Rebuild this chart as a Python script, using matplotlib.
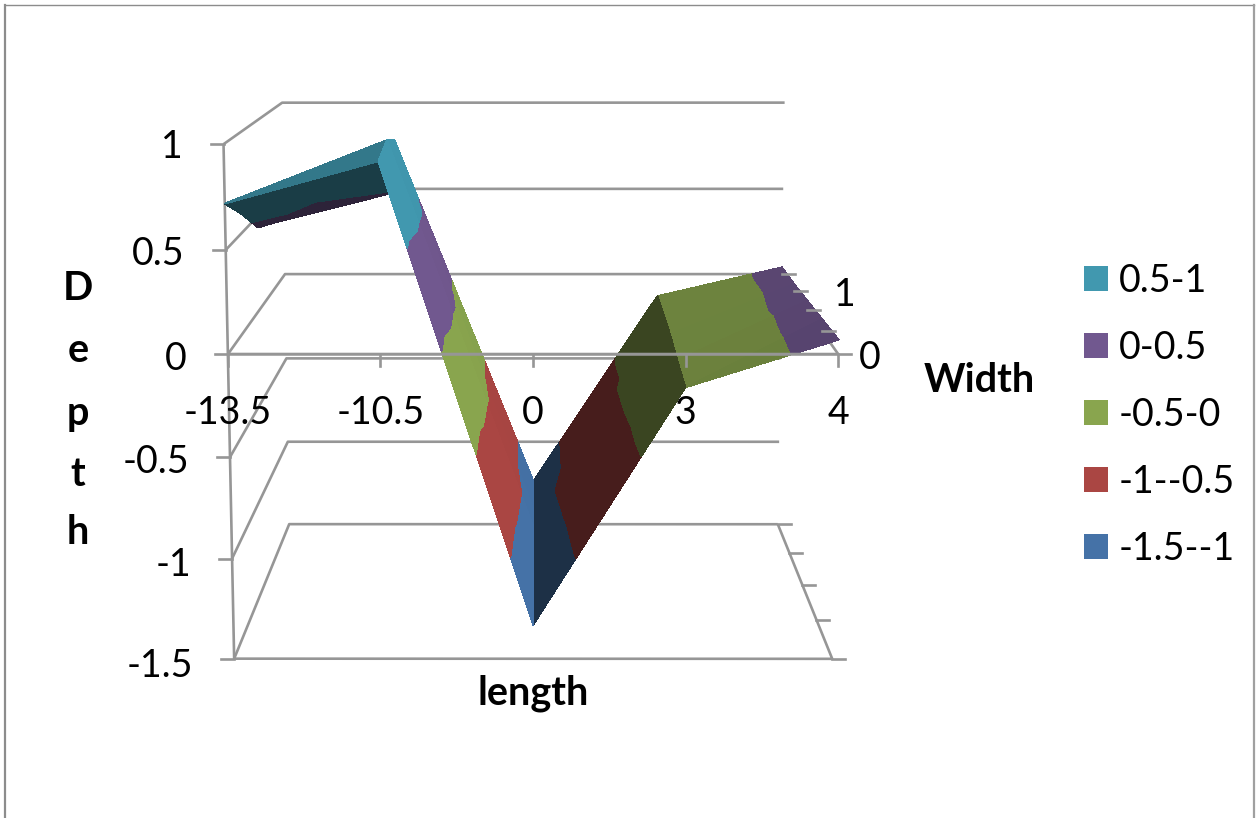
import numpy as np
import matplotlib
matplotlib.use('Agg')
import matplotlib.pyplot as plt
from matplotlib.patches import Patch
from matplotlib.tri import Triangulation

plt.rcParams['font.family'] = ['Lato', 'DejaVu Sans']

# data
length_labels = ['-13.5', '-10.5', '0', '3', '4']
depth_ticks = [1, 0.5, 0, -0.5, -1, -1.5]
depth_labels = ['1', '0.5', '0', '-0.5', '-1', '-1.5']
# rows = width series front to rear, columns = length categories
depth_front = [0.72, 0.92, -1.33, -0.16, 0.07]
depth_row1 = [0.59, 0.96, -1.26, -0.15, 0.06]
depth_row2 = [0.44, 0.90, -1.18, -0.13, 0.05]
depth_row3 = [0.38, 0.74, -1.25, -0.13, 0.04]
depth_rear = [0.33, 0.50, -1.24, -0.13, 0.04]
band_levels = [-1.5, -1, -0.5, 0, 0.5, 1]
band_colors = ['#4572A7', '#AA4643', '#89A54E', '#71588F', '#4198AF']
band_names = ['-1.5--1', '-1--0.5', '-0.5-0', '0-0.5', '0.5-1']

depth = np.array([depth_front, depth_row1, depth_row2, depth_row3, depth_rear])

# view of the 3d box: (category, series, depth) -> pixel, fitted as a homography
view_3d = [(0, 0, 1), (0, 0, 0), (0, 0, -1.5), (4, 0, 0), (4, 0, -1.5),
           (0, 4, 1), (0, 4, 0), (0, 4, -1.5), (4, 4, 1), (4, 4, 0), (4, 4, -1.5),
           (4, 1, 0), (4, 2, 0), (4, 3, 0), (4, 1, -1.5), (4, 2, -1.5), (4, 3, -1.5)]
view_px = [(224, 144), (228, 354), (234, 659), (838, 354), (832, 659),
           (282, 103), (284, 274), (290, 524), (785, 103), (782, 274), (778, 524),
           (822, 331), (807, 310), (794, 291), (817, 620), (802, 585), (789, 553)]


def fit_view():
    rows, rhs = [], []
    for (a, b, c), (u, v) in zip(view_3d, view_px):
        rows.append([a, b, c, 1, 0, 0, 0, 0, -u * a, -u * b, -u * c])
        rhs.append(u)
        rows.append([0, 0, 0, 0, a, b, c, 1, -v * a, -v * b, -v * c])
        rhs.append(v)
    sol = np.linalg.lstsq(np.array(rows, float), np.array(rhs, float), rcond=None)[0]
    return np.append(sol, 1).reshape(3, 4)


H = fit_view()


def proj(i, j, d):
    w = H @ np.array([i, j, d, 1.0])
    return w[0] / w[2], w[1] / w[2]


def line3d(ax, pts, z=1, lw=1.9):
    xy = [proj(*p) for p in pts]
    ax.plot([p[0] for p in xy], [p[1] for p in xy], color='#969696', lw=lw, zorder=z,
            solid_capstyle='butt')


def shade_of(tri3d):
    # Excel lights the faces by slope, undersides are dark
    a, b, c = [np.array(proj(*p)) for p in tri3d]
    u, v = b - a, c - a
    underside = u[0] * v[1] - u[1] * v[0] > 0
    if underside:
        return 0.40
    M = np.array([[p[0], p[1], 1.0] for p in tri3d])
    slope = np.linalg.solve(M, np.array([p[2] for p in tri3d]))[0]
    return float(np.interp(slope, [-2.2, 0.2, 0.9], [1.0, 0.79, 0.42]))


def draw_face(ax, tri3d):
    pts = [proj(*p) for p in tri3d]
    t = Triangulation([p[0] for p in pts], [p[1] for p in pts], [[0, 1, 2]])
    s = shade_of(tri3d)
    cols = [tuple(c * s for c in matplotlib.colors.to_rgb(h)) for h in band_colors]
    cs = ax.tricontourf(t, [p[2] for p in tri3d], levels=band_levels, colors=cols, zorder=3)
    cs.set_edgecolor('face')
    cs.set_linewidth(0.6)


fig = plt.figure(figsize=(12.58, 8.18), dpi=100)
ax = fig.add_axes([0, 0, 1, 1])
ax.set_xlim(0, 1258)
ax.set_ylim(818, 0)
ax.axis('off')

# walls, floor
for d in depth_ticks:
    line3d(ax, [(0, 0, d), (0, 4, d), (4, 4, d)])
    x, y = proj(0, 0, d)
    ax.plot([x - 13, x], [y, y], color='#969696', lw=1.9, zorder=1)
line3d(ax, [(0, 0, 1), (0, 0, -1.5), (4, 0, -1.5), (4, 4, -1.5)])
line3d(ax, [(4, 0, 0), (4, 4, 0)])

# surface, painted rear to front
for col in [0, 3, 2, 1]:
    for row in [3, 2, 1, 0]:
        a = (col, row, depth[row, col])
        b = (col + 1, row, depth[row, col + 1])
        c = (col + 1, row + 1, depth[row + 1, col + 1])
        e = (col, row + 1, depth[row + 1, col])
        draw_face(ax, (a, c, e))
        draw_face(ax, (a, b, c))

# axis lines and ticks that sit on top of the surface
line3d(ax, [(0, 0, 0), (4, 0, 0)], z=5, lw=2.2)
for i in range(5):
    x, y = proj(i, 0, 0)
    ax.plot([x, x], [y, y + 12], color='#969696', lw=1.9, zorder=5)
for j in range(5):
    for d in [0, -1.5]:
        x, y = proj(4, j, d)
        ax.plot([x, x + 13], [y, y], color='#969696', lw=1.9, zorder=5)

# tick labels
fs = 27
for d, lab in zip(depth_ticks, depth_labels):
    x, y = proj(0, 0, d)
    ax.text(x - 41, y + 3 + 1.6 * (1 - d), lab, fontsize=fs, ha='right', va='center', zorder=6)
for i, lab in enumerate(length_labels):
    x, y = proj(i, 0, 0)
    ax.text(x, 413, lab, fontsize=fs, ha='center', va='center', zorder=6)
ax.text(870, 358, '0', fontsize=fs, ha='center', va='center')
ax.text(845, 295, '1', fontsize=fs, ha='center', va='center')

# titles
ax.text(533, 693, 'length', fontsize=28.5, fontweight='bold', ha='center', va='center')
ax.text(979, 381, 'Width', fontsize=28.5, fontweight='bold', ha='center', va='center')
for letter, y in zip('Depth', [288, 351, 414, 475, 533]):
    ax.text(78, y, letter, fontsize=28.5, fontweight='bold', ha='center', va='center')

# legend
handles = [Patch(facecolor=c, label=n) for c, n in zip(band_colors[::-1], band_names[::-1])]
ax.legend(handles=handles, loc='upper left', bbox_to_anchor=(1084, 263), bbox_transform=ax.transData,
          frameon=False, fontsize=fs, handlelength=0.64, handleheight=0.64, handletextpad=0.29,
          labelspacing=0.826, borderpad=0, borderaxespad=0)

# chart border
ax.plot([5, 5], [818, 4.5], color='#8c8c8c', lw=1.6, zorder=0)
ax.plot([5, 1254], [4.5, 4.5], color='#8c8c8c', lw=1.0, zorder=0)
ax.plot([1254, 1254], [4.5, 818], color='#a0a0a0', lw=1.6, zorder=0)

fig.savefig('out.png', dpi=100)
